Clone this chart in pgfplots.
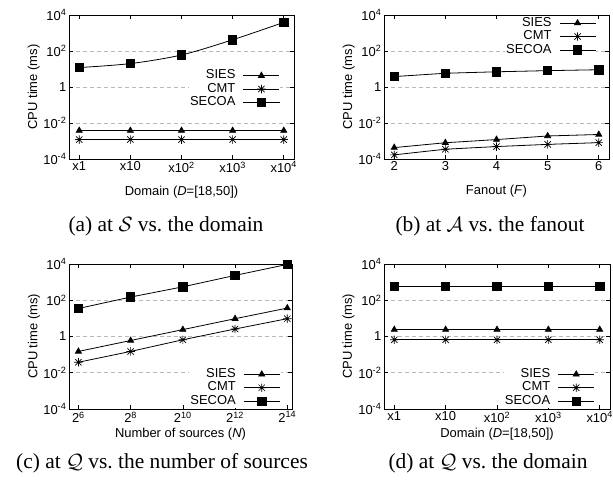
\documentclass[border=0pt]{standalone}
\usepackage{fontspec}
\setmainfont{Liberation Serif}
\newfontfamily\hv{Liberation Sans}
\usepackage{pgfplots}
\pgfplotsset{compat=1.18}

\pgfdeclareplotmark{gpstar}{%
  \pgfpathmoveto{\pgfqpoint{-\pgfplotmarksize}{0pt}}\pgfpathlineto{\pgfqpoint{\pgfplotmarksize}{0pt}}%
  \pgfpathmoveto{\pgfqpoint{0pt}{-\pgfplotmarksize}}\pgfpathlineto{\pgfqpoint{0pt}{\pgfplotmarksize}}%
  \pgfpathmoveto{\pgfqpoint{-0.75\pgfplotmarksize}{-0.75\pgfplotmarksize}}\pgfpathlineto{\pgfqpoint{0.75\pgfplotmarksize}{0.75\pgfplotmarksize}}%
  \pgfpathmoveto{\pgfqpoint{-0.75\pgfplotmarksize}{0.75\pgfplotmarksize}}\pgfpathlineto{\pgfqpoint{0.75\pgfplotmarksize}{-0.75\pgfplotmarksize}}%
  \pgfusepathqstroke}

\pgfplotsset{
  every axis/.append style={
    scale only axis,
    ymin=1e-4, ymax=1e4,
    ytick={1e-4,1e-2,1,1e2,1e4},
    yticklabels={10\textsuperscript{-4},10\textsuperscript{-2},1,10\textsuperscript{2},10\textsuperscript{4}},
    yminorticks=false, xminorticks=false,
    ymajorgrids,
    grid style={gray!55, dash pattern=on 4bp off 3bp, line width=0.7bp},
    tick align=inside, major tick length=4bp,
    tick style={black, line width=0.6bp},
    axis line style={black, line width=0.9bp},
    ticklabel style={font=\hv\fontsize{13}{15}\selectfont},
    yticklabel style={inner sep=2.5bp},
    xticklabel style={inner sep=2.5bp},
    label style={font=\hv\fontsize{13}{15}\selectfont},
    ylabel={CPU time (ms)},
    ylabel style={at={(axis description cs:-0.157,0.5)}, anchor=center},
    legend plot pos=right,
    legend cell align=right,
    legend style={draw=none, fill=white, inner sep=0.5bp, row sep=0pt,
      font=\hv\fontsize{13}{15}\selectfont,
      nodes={inner sep=0.6bp, text height=9.3bp, text depth=2.9bp}},
  },
  legend image code/.code={\path (0bp,0bp); \draw[mark repeat=2,mark phase=2,#1] plot coordinates {(7bp,0bp) (25bp,0bp) (43bp,0bp)};},
  every axis plot/.append style={black, line width=0.8bp},
  sies/.style={mark=triangle*, mark size=3.4bp, mark options={solid, fill=black}},
  cmt/.style={mark=gpstar, mark size=4.2bp, mark options={solid, line width=0.7bp}},
  secoa/.style={mark=square*, mark size=4.2bp, mark options={solid, fill=black}},
}

\begin{document}
\begin{tikzpicture}
\path[use as bounding box] (0,0) rectangle (613bp,485bp);

% (a)
\begin{axis}[ymode=log, at={(69bp,326bp)}, anchor=south west, width=225bp, height=144bp,
  xmin=-0.2, xmax=4.2, xtick={0,1,2,3,4},
  xticklabels={x1,x10,x10\textsuperscript{2},x10\textsuperscript{3},x10\textsuperscript{4}},
  xlabel={Domain (\textit{D}=[18,50])},
  xlabel style={at={(axis description cs:0.5,0)}, yshift=-33bp, anchor=center},
  legend style={at={(axis description cs:0.94,0.63)}, anchor=north east}]
\addplot[sies] coordinates {(0,0.0038) (1,0.0038) (2,0.0038) (3,0.0038) (4,0.0038)};
\addlegendentry{SIES}
\addplot[cmt] coordinates {(0,0.0012) (1,0.0012) (2,0.0012) (3,0.0012) (4,0.0012)};
\addlegendentry{CMT}
\addplot[secoa, smooth] coordinates {(0,12) (1,20) (2,60) (3,420) (4,3900)};
\addlegendentry{SECOA}
\end{axis}

% (b)
\begin{axis}[ymode=log, at={(384bp,326bp)}, anchor=south west, width=225bp, height=144bp,
  xmin=1.8, xmax=6.2, xtick={2,3,4,5,6}, xticklabels={2,3,4,5,6},
  xlabel={Fanout (\textit{F})},
  xlabel style={at={(axis description cs:0.5,0)}, yshift=-32bp, anchor=center},
  legend style={at={(axis description cs:0.945,0.995)}, anchor=north east}]
\addplot[sies] coordinates {(2,4.3e-4) (3,8e-4) (4,1.2e-3) (5,1.9e-3) (6,2.3e-3)};
\addlegendentry{SIES}
\addplot[cmt] coordinates {(2,1.7e-4) (3,3.5e-4) (4,4.9e-4) (5,6.5e-4) (6,8.1e-4)};
\addlegendentry{CMT}
\addplot[secoa] coordinates {(2,3.8) (3,5.8) (4,7) (5,8.1) (6,9.1)};
\addlegendentry{SECOA}
\end{axis}

% (c)
\begin{axis}[ymode=log, at={(69bp,76bp)}, anchor=south west, width=223bp, height=145bp,
  xmin=5.64, xmax=14.18, xtick={6,8,10,12,14},
  xticklabels={2\textsuperscript{6},2\textsuperscript{8},2\textsuperscript{10},2\textsuperscript{12},2\textsuperscript{14}},
  xlabel={Number of sources (\textit{N})},
  xlabel style={at={(axis description cs:0.5,0)}, yshift=-25bp, anchor=center},
  legend style={at={(axis description cs:0.95,0.29)}, anchor=north east}]
\addplot[sies] coordinates {(6,0.15) (8,0.6) (10,2.4) (12,9.6) (14,37)};
\addlegendentry{SIES}
\addplot[cmt] coordinates {(6,0.038) (8,0.15) (10,0.66) (12,2.6) (14,9.6)};
\addlegendentry{CMT}
\addplot[secoa] coordinates {(6,35) (8,150) (10,550) (12,2350) (14,9500)};
\addlegendentry{SECOA}
\end{axis}

% (d)
\begin{axis}[ymode=log, at={(384bp,76bp)}, anchor=south west, width=226bp, height=145bp,
  xmin=-0.2, xmax=4.2, xtick={0,1,2,3,4},
  xticklabels={x1,x10,x10\textsuperscript{2},x10\textsuperscript{3},x10\textsuperscript{4}},
  xlabel={Domain (\textit{D}=[18,50])},
  xlabel style={at={(axis description cs:0.5,0)}, yshift=-25bp, anchor=center},
  legend style={at={(axis description cs:0.935,0.29)}, anchor=north east}]
\addplot[sies] coordinates {(0,2.4) (1,2.4) (2,2.4) (3,2.4) (4,2.4)};
\addlegendentry{SIES}
\addplot[cmt] coordinates {(0,0.66) (1,0.66) (2,0.66) (3,0.66) (4,0.66)};
\addlegendentry{CMT}
\addplot[secoa] coordinates {(0,600) (1,600) (2,600) (3,600) (4,600)};
\addlegendentry{SECOA}
\end{axis}

% captions
\begin{scope}[every node/.style={font=\fontsize{21.5}{24}\selectfont, inner sep=0pt}]
\node at (166bp,259bp) {(a)~at $\mathcal{S}$ vs.\ the domain};
\node at (490bp,259bp) {(b)~at $\mathcal{A}$ vs.\ the fanout};
\node at (162bp,22bp) {(c)~at $\mathcal{Q}$ vs.\ the number of sources};
\node at (488bp,22bp) {(d)~at $\mathcal{Q}$ vs.\ the domain};
\end{scope}
\end{tikzpicture}
\end{document}
